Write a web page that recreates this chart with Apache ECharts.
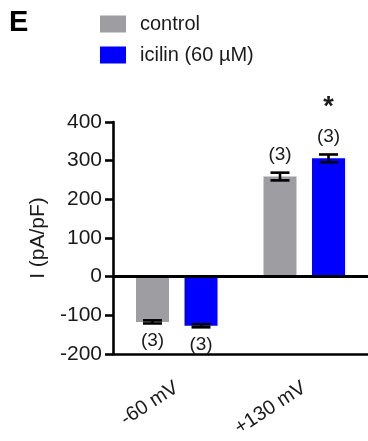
<!DOCTYPE html>
<html>
<head>
<meta charset="utf-8">
<script src="https://cdn.jsdelivr.net/npm/echarts@6/dist/echarts.min.js"></script>
<style>
  html, body { margin: 0; padding: 0; background: #fff; }
  #chart { width: 368px; height: 441px; }
</style>
</head>
<body>
<div id="chart"></div>
<script>
// Whole-cell current density at two holding potentials
const categories = ['-60 mV', '+130 mV'];
const seriesNames = ['control', 'icilin (60 µM)'];
const controlMean = [-117, 259];
const controlSem = [4, 10];
const icilinMean = [-127, 306];
const icilinSem = [4, 10];
const nLabels = ['(3)', '(3)'];
const significance = ['', '*']; // icilin vs control
const yTicks = { min: -200, max: 400, step: 100 };

const colors = ['#9e9ea2', '#0000ff'];
const BAR_W = 33;
const BAR_GAP = 0.47;
const FONT = 'Liberation Sans, Arial, sans-serif';
const INK = '#1a1a1a';

const chart = echarts.init(document.getElementById('chart'), null, { renderer: 'canvas' });

// error bars, sample sizes and significance marks drawn over a bar
function errorSeries(means, sems, seriesIdx, stars) {
  const data = means.map((m, i) => [i, m, sems[i]]);
  const half = (BAR_W + BAR_W * BAR_GAP) / 2;
  const shift = seriesIdx === 0 ? -half : half;
  return {
    type: 'custom',
    z: 5,
    silent: true,
    data: data,
    renderItem: function (params, api) {
      const i = api.value(0), m = api.value(1), e = api.value(2);
      const top = api.coord([i, m + e]);
      const bot = api.coord([i, m - e]);
      const x = top[0] + shift;
      const cap = 9.5;
      const style = { stroke: '#000', lineWidth: 2.6 };
      const children = [
        { type: 'line', shape: { x1: x, y1: top[1], x2: x, y2: bot[1] }, style: style },
        { type: 'line', shape: { x1: x - cap, y1: top[1], x2: x + cap, y2: top[1] }, style: style },
        { type: 'line', shape: { x1: x - cap, y1: bot[1], x2: x + cap, y2: bot[1] }, style: style }
      ];
      const pos = m >= 0;
      const ly = pos ? top[1] - 18 : bot[1] + 17;
      children.push({
        type: 'text',
        style: {
          x: x, y: ly, text: nLabels[i], align: 'center', verticalAlign: 'middle',
          font: '19px ' + FONT, fill: INK
        }
      });
      if (stars && stars[i]) {
        children.push({
          type: 'text',
          style: {
            x: x, y: ly - 29, text: stars[i], align: 'center', verticalAlign: 'middle',
            font: 'bold 27px ' + FONT, fill: INK
          }
        });
      }
      return { type: 'group', children: children };
    }
  };
}

chart.setOption({
  animation: false,
  title: {
    text: 'E', left: 9, top: 8, padding: 0,
    textStyle: { fontSize: 29, fontWeight: 'bold', color: '#000', fontFamily: FONT }
  },
  legend: {
    data: seriesNames,
    orient: 'vertical',
    left: 100, top: 14, padding: 0,
    itemWidth: 26, itemHeight: 17, itemGap: 11,
    icon: 'rect',
    textStyle: { fontSize: 20, color: INK, fontFamily: FONT, padding: [0, 0, 0, 9] }
  },
  grid: { left: 113, top: 122, width: 257, height: 232 },
  xAxis: {
    type: 'category',
    data: categories,
    axisLine: { show: true, onZero: false, lineStyle: { color: '#000', width: 2.6 } },
    axisTick: { show: false },
    axisLabel: {
      rotate: 33, margin: 32, fontSize: 20, color: INK, fontFamily: FONT
    }
  },
  yAxis: {
    type: 'value',
    min: yTicks.min, max: yTicks.max, interval: yTicks.step,
    name: 'I (pA/pF)',
    nameLocation: 'middle',
    nameGap: 62,
    nameTextStyle: { fontSize: 21, color: INK, fontFamily: FONT },
    axisLine: { show: true, onZero: false, lineStyle: { color: '#000', width: 2.6 } },
    axisTick: { show: true, length: 8, lineStyle: { color: '#000', width: 2.6 } },
    axisLabel: { fontSize: 21, color: INK, fontFamily: FONT, margin: 11 },
    splitLine: { show: false }
  },
  series: [
    {
      name: seriesNames[0], type: 'bar', data: controlMean,
      barWidth: BAR_W, barGap: (BAR_GAP * 100) + '%',
      itemStyle: { color: colors[0] },
      markLine: {
        silent: true, symbol: 'none', label: { show: false },
        lineStyle: { color: '#000', width: 2.8, type: 'solid' },
        data: [{ yAxis: 0 }]
      }
    },
    {
      name: seriesNames[1], type: 'bar', data: icilinMean,
      barWidth: BAR_W, barGap: (BAR_GAP * 100) + '%',
      itemStyle: { color: colors[1] }
    },
    errorSeries(controlMean, controlSem, 0, null),
    errorSeries(icilinMean, icilinSem, 1, significance)
  ]
});
</script>
</body>
</html>
